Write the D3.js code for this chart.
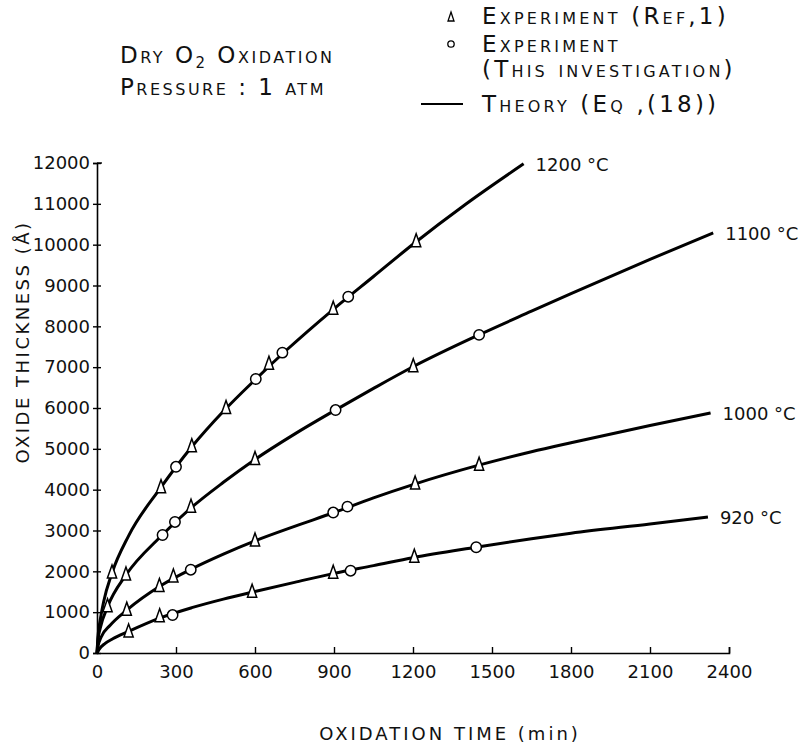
<!DOCTYPE html>
<html lang="en">
<head>
<meta charset="UTF-8">
<title>Dry O2 oxidation</title>
<script src="https://cdn.jsdelivr.net/npm/d3@7"></script>
<style>
  body { margin: 0; background: #fff; }
  text { font-family: "DejaVu Sans", sans-serif; fill: #111; }
  .sc { font-variant: small-caps; }
</style>
</head>
<body>
<script>
    const width = 804, height = 755;

    // tick labels
    const xTicks = [0, 300, 600, 900, 1200, 1500, 1800, 2100, 2400];
    const yTicks = [0, 1000, 2000, 3000, 4000, 5000, 6000, 7000, 8000, 9000, 10000, 11000, 12000];

    const curveNames = ['1200 °C', '1100 °C', '1000 °C', '920 °C'];

    // theory curves (time min, thickness A)
    const theory1200 = [[0,0],[4,420],[12,800],[25,1250],[57,1960],[120,2870],[240,4030],[360,5050],[480,5920],[600,6690],[720,7420],[900,8430],[1050,9220],[1200,10010],[1400,10990],[1620,11980]];
    const theory1100 = [[0,0],[4,330],[12,600],[40,1130],[110,1910],[240,2840],[360,3570],[480,4180],[600,4740],[750,5360],[900,5930],[1050,6480],[1200,7010],[1450,7790],[1650,8370],[1800,8800],[2100,9640],[2340,10290]];
    const theory1000 = [[0,0],[4,170],[15,380],[50,680],[113,1050],[240,1640],[360,2060],[480,2420],[600,2745],[750,3100],[900,3440],[1050,3800],[1200,4125],[1450,4600],[1650,4930],[1800,5150],[2100,5570],[2330,5880]];
    const theory920 = [[0,0],[8,90],[30,230],[60,350],[120,530],[240,860],[360,1110],[480,1320],[600,1505],[750,1730],[900,1950],[1050,2140],[1200,2335],[1440,2590],[1650,2800],[1800,2935],[2100,3160],[2320,3330]];

    // experiment (Ref. 1) - triangles
    const ref1200 = [[57,1960],[243,4050],[360,5050],[490,5990],[653,7070],[897,8420],[1212,10070]];
    const ref1100 = [[40,1130],[110,1910],[357,3570],[600,4740],[1201,7010]];
    const ref1000 = [[113,1050],[237,1630],[290,1860],[600,2740],[1208,4140],[1451,4600]];
    const ref920 = [[120,515],[238,885],[589,1490],[897,1951],[1205,2343]];

    // experiment (this investigation) - circles
    const own1200 = [[300,4560],[603,6710],[704,7355],[954,8726]];
    const own1100 = [[249,2890],[296,3210],[906,5950],[1451,7790]];
    const own1000 = [[356,2040],[897,3440],[951,3584]];
    const own920 = [[287,930],[963,2016],[1440,2590]];

    const theories = [theory1200, theory1100, theory1000, theory920];
    const refs = [ref1200, ref1100, ref1000, ref920];
    const owns = [own1200, own1100, own1000, own920];

    const x = d3.scaleLinear().domain([0, 2400]).range([97, 729]);
    const y = d3.scaleLinear().domain([0, 12000]).range([653, 163]);

    const svg = d3.select('body').append('svg')
        .attr('width', width)
        .attr('height', height);

    // axes
    const gx = svg.append('g')
        .attr('transform', 'translate(0,' + y(0) + ')')
        .call(d3.axisBottom(x).tickValues(xTicks).tickSize(-6).tickPadding(12).tickFormat(d3.format('d')));
    gx.select('.domain').attr('stroke-width', 1.6);
    gx.selectAll('.tick line').attr('stroke-width', 1.4);
    gx.selectAll('.tick text').style('font-size', '18px').attr('fill', '#111');

    const gy = svg.append('g')
        .attr('transform', 'translate(' + x(0) + ',0)')
        .call(d3.axisLeft(y).tickValues(yTicks).tickSize(4).tickPadding(3).tickFormat(d3.format('d')));
    gy.select('.domain').attr('stroke-width', 1.6);
    gy.selectAll('.tick line').attr('x1', -4).attr('x2', 4).attr('stroke-width', 1.4);
    gy.selectAll('.tick text').style('font-size', '18px').attr('fill', '#111');

    // axis titles
    svg.append('text')
        .attr('x', 450).attr('y', 740)
        .attr('text-anchor', 'middle')
        .style('font-size', '18px').style('letter-spacing', '3px')
        .text('OXIDATION TIME (min)');
    svg.append('text')
        .attr('transform', 'translate(29,342) rotate(-90)')
        .attr('text-anchor', 'middle')
        .style('font-size', '18px').style('letter-spacing', '2.5px')
        .text('OXIDE THICKNESS (Å)');

    // theory lines
    const line = d3.line()
        .x(d => x(d[0]))
        .y(d => y(d[1]))
        .curve(d3.curveMonotoneX);

    svg.append('g').selectAll('path')
        .data(theories)
        .enter()
        .append('path')
        .attr('d', line)
        .attr('fill', 'none')
        .attr('stroke', '#000')
        .attr('stroke-width', 3);

    // curve labels at line ends
    svg.append('g').selectAll('text')
        .data(theories)
        .enter()
        .append('text')
        .attr('x', d => x(d[d.length - 1][0]) + 12)
        .attr('y', d => y(d[d.length - 1][1]) + 7)
        .style('font-size', '18px')
        .text((d, i) => curveNames[i]);

    const tri = 'M0,-8L4.6,5L-4.6,5Z';

    svg.append('g').selectAll('path')
        .data(refs.flat())
        .enter()
        .append('path')
        .attr('d', tri)
        .attr('transform', d => 'translate(' + x(d[0]) + ',' + y(d[1]) + ')')
        .attr('fill', '#fff')
        .attr('stroke', '#000')
        .attr('stroke-width', 1.5);

    svg.append('g').selectAll('circle')
        .data(owns.flat())
        .enter()
        .append('circle')
        .attr('cx', d => x(d[0]))
        .attr('cy', d => y(d[1]))
        .attr('r', 5.2)
        .attr('fill', '#fff')
        .attr('stroke', '#000')
        .attr('stroke-width', 1.5);

    // title block
    const t1 = svg.append('text').attr('class', 'sc')
        .attr('x', 120).attr('y', 63)
        .style('font-size', '23px').style('letter-spacing', '2.5px');
    t1.append('tspan').text('Dry O');
    t1.append('tspan').attr('dy', 5).style('font-size', '15px').text('2');
    t1.append('tspan').attr('dy', -5).text(' Oxidation');

    svg.append('text').attr('class', 'sc')
        .attr('x', 120).attr('y', 95)
        .style('font-size', '23px').style('letter-spacing', '2.5px')
        .text('Pressure : 1 atm');

    // legend
    const lg = svg.append('g');
    lg.append('path')
        .attr('d', 'M0,-5L3,4L-3,4Z')
        .attr('transform', 'translate(451,17)')
        .attr('fill', '#fff').attr('stroke', '#000').attr('stroke-width', 1.3);
    lg.append('circle')
        .attr('cx', 451).attr('cy', 44).attr('r', 3.2)
        .attr('fill', '#fff').attr('stroke', '#000').attr('stroke-width', 1.3);
    lg.append('line')
        .attr('x1', 421).attr('x2', 463)
        .attr('y1', 104).attr('y2', 104)
        .attr('stroke', '#000').attr('stroke-width', 2);

    const legendRows = [['Experiment (Ref,1)', 24], ['Experiment', 52], ['(This investigation)', 77], ['Theory (Eq ,(18))', 112]];
    lg.selectAll('text')
        .data(legendRows)
        .enter()
        .append('text')
        .attr('class', 'sc')
        .attr('x', 482)
        .attr('y', d => d[1])
        .style('font-size', '23px').style('letter-spacing', '3.2px')
        .text(d => d[0]);

    // small hook at the top of the y axis
    svg.append('line')
        .attr('x1', x(0)).attr('x2', x(0) + 5)
        .attr('y1', y(12000)).attr('y2', y(12000))
        .attr('stroke', '#000').attr('stroke-width', 1.4);
</script>
</body>
</html>
